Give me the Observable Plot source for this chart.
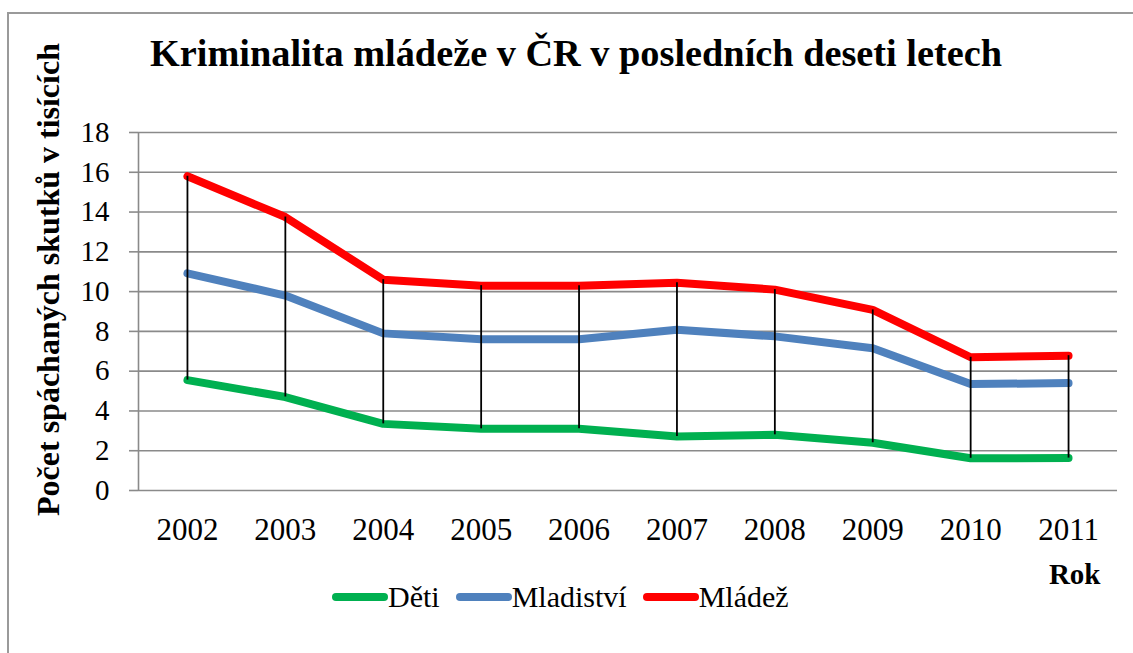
<!DOCTYPE html>
<html><head><meta charset="utf-8">
<script src="https://cdn.jsdelivr.net/npm/d3@7"></script>
<script src="https://cdn.jsdelivr.net/npm/@observablehq/plot@0.6"></script>
<style>
body{margin:0;background:#fff;}
#wrap{position:relative;width:1133px;height:653px;overflow:hidden;font-family:"Liberation Serif","Times New Roman",serif;color:#000;}
#border{position:absolute;left:7px;top:12px;width:1300px;height:900px;border-left:2px solid #9a9a9a;border-top:2px solid #9a9a9a;}
#chart{position:absolute;left:0;top:0;}
#chart svg, #chart svg text, #chart svg g{font-family:"Liberation Serif","Times New Roman",serif !important;}
#title{position:absolute;left:150px;top:34px;font-weight:bold;font-size:38.3px;line-height:38px;white-space:nowrap;}
#legend{position:absolute;left:332px;top:582px;display:flex;align-items:center;font-size:30px;line-height:30px;white-space:nowrap;}
.sw{display:inline-block;width:56px;height:8px;border-radius:4px;margin-top:-1px;}
.item{display:flex;align-items:center;margin-right:16px;}
</style>
</head><body>
<div id="wrap">
  <div id="border"></div>
  <div id="chart"></div>
  <div id="title">Kriminalita mládeže v ČR v posledních deseti letech</div>
  <div id="legend"></div>
</div>
<script>
const years = [2002, 2003, 2004, 2005, 2006, 2007, 2008, 2009, 2010, 2011];
const deti = [5.55, 4.7, 3.35, 3.1, 3.1, 2.72, 2.8, 2.4, 1.62, 1.63];
const mladistvi = [10.92, 9.8, 7.9, 7.6, 7.6, 8.08, 7.75, 7.15, 5.35, 5.4];
const mladez = [15.8, 13.75, 10.6, 10.3, 10.3, 10.45, 10.1, 9.08, 6.7, 6.78];
const seriesNames = ["Děti", "Mladiství", "Mládež"];
const seriesColors = ["#00B050", "#4F81BD", "#FF0000"];
const yTicks = [0, 2, 4, 6, 8, 10, 12, 14, 16, 18];
const yLabel = "Počet spáchaných skutků v tisících";
const xLabel = "Rok";

const seriesValues = [deti, mladistvi, mladez];
const rows = [];
seriesNames.forEach((s, i) => years.forEach((yr, j) => rows.push({series: s, year: yr, value: seriesValues[i][j]})));
const ranges = years.map((yr, j) => ({year: yr, lo: deti[j], hi: mladez[j]}));

const serif = "'Liberation Serif','Times New Roman',serif";
const chart = Plot.plot({
  width: 1133,
  height: 653,
  marginLeft: 138,
  marginRight: 16,
  marginTop: 132,
  marginBottom: 163,
  style: {fontFamily: serif, fontSize: "30px", background: "transparent", color: "#000"},
  x: {type: "linear", domain: [2001.5, 2011.5]},
  y: {domain: [0, 18]},
  color: {domain: seriesNames, range: seriesColors},
  marks: [
    Plot.ruleY(yTicks, {stroke: "#8a8a8a", strokeWidth: 1.6}),
    Plot.ruleX([2001.5], {y1: 0, y2: 18, stroke: "#8a8a8a", strokeWidth: 1.6}),
    Plot.axisY(yTicks, {tickSize: 9, tickPadding: 20, stroke: "#8a8a8a", fill: "#000", strokeWidth: 1.6, fontSize: 29, fontFamily: serif, label: null}),
    Plot.axisX(years, {tickSize: 0, tickPadding: 27, tickFormat: d => String(d), label: null, fill: "#000", fontSize: 31, fontFamily: serif}),
    Plot.line(rows, {x: "year", y: "value", z: "series", stroke: "series", strokeWidth: 8, strokeLinecap: "round", strokeLinejoin: "round"}),
    Plot.ruleX(ranges, {x: "year", y1: "lo", y2: "hi", stroke: "#000", strokeWidth: 1.8}),
    Plot.text([yLabel], {frameAnchor: "left", textAnchor: "middle", rotate: -90, dx: -90, dy: -32, fontWeight: "bold", fontSize: 32, fontFamily: serif, fill: "#000", text: d => d}),
    Plot.text([xLabel], {frameAnchor: "bottom-right", textAnchor: "end", lineAnchor: "bottom", dx: -17, dy: 93, fontWeight: "bold", fontSize: 29, fontFamily: serif, fill: "#000", text: d => d})
  ]
});
document.getElementById("chart").appendChild(chart);

const legend = document.getElementById("legend");
seriesNames.forEach((s, i) => {
  const item = document.createElement("span");
  item.className = "item";
  const sw = document.createElement("span");
  sw.className = "sw";
  sw.style.background = seriesColors[i];
  const t = document.createElement("span");
  t.textContent = s;
  item.appendChild(sw);
  item.appendChild(t);
  legend.appendChild(item);
});
</script>
</body></html>
